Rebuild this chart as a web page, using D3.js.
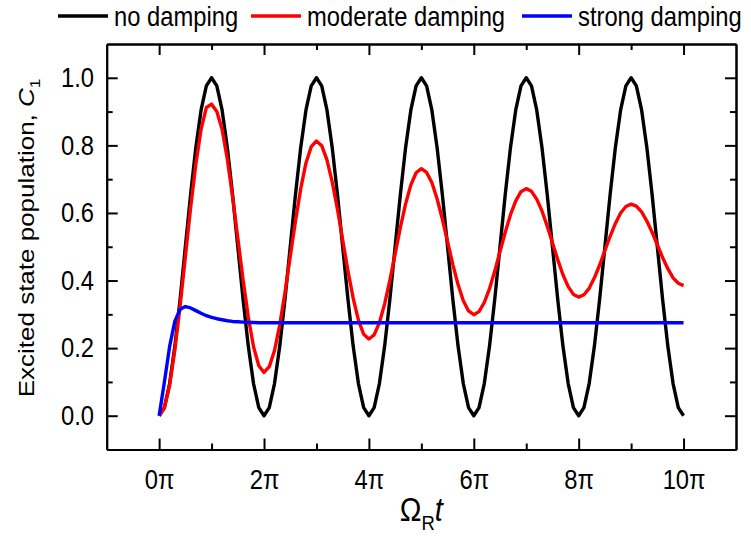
<!DOCTYPE html>
<html>
<head>
<meta charset="utf-8">
<script src="https://cdn.jsdelivr.net/npm/d3@7"></script>
<style>
  body { margin: 0; background: #fff; }
  svg { display: block; }
  text { font-family: "Liberation Sans", Arial, sans-serif; fill: #000; }
</style>
</head>
<body>
<svg id="chart" width="751" height="536"></svg>
<script>
// Sample spacing of the time axis, in units of π
const tStep = 0.1;

// Excited state population C1, no damping (t = 0 … 10π)
const noDamping = [
  0, 0.024, 0.095, 0.206, 0.345, 0.5, 0.655, 0.794, 0.905, 0.976,
  1, 0.976, 0.905, 0.794, 0.655, 0.5, 0.345, 0.206, 0.095, 0.024,
  0, 0.024, 0.095, 0.206, 0.345, 0.5, 0.655, 0.794, 0.905, 0.976,
  1, 0.976, 0.905, 0.794, 0.655, 0.5, 0.345, 0.206, 0.095, 0.024,
  0, 0.024, 0.095, 0.206, 0.345, 0.5, 0.655, 0.794, 0.905, 0.976,
  1, 0.976, 0.905, 0.794, 0.655, 0.5, 0.345, 0.206, 0.095, 0.024,
  0, 0.024, 0.095, 0.206, 0.345, 0.5, 0.655, 0.794, 0.905, 0.976,
  1, 0.976, 0.905, 0.794, 0.655, 0.5, 0.345, 0.206, 0.095, 0.024,
  0, 0.024, 0.095, 0.206, 0.345, 0.5, 0.655, 0.794, 0.905, 0.976,
  1, 0.976, 0.905, 0.794, 0.655, 0.5, 0.345, 0.206, 0.095, 0.024,
  0
];

// Moderate damping (t = 0 … 10π)
const moderateDamping = [
  0, 0.023, 0.090, 0.195, 0.325, 0.470, 0.615, 0.745, 0.848, 0.912,
  0.922, 0.900, 0.848, 0.760, 0.649, 0.526, 0.403, 0.292, 0.204, 0.148,
  0.128, 0.145, 0.193, 0.269, 0.365, 0.471, 0.576, 0.672, 0.748, 0.796,
  0.813, 0.799, 0.757, 0.692, 0.611, 0.520, 0.429, 0.348, 0.283, 0.241,
  0.227, 0.239, 0.275, 0.331, 0.401, 0.479, 0.557, 0.627, 0.683, 0.719,
  0.731, 0.720, 0.690, 0.642, 0.582, 0.515, 0.448, 0.388, 0.340, 0.310,
  0.299, 0.308, 0.335, 0.376, 0.428, 0.486, 0.543, 0.595, 0.636, 0.663,
  0.672, 0.664, 0.641, 0.606, 0.561, 0.512, 0.462, 0.417, 0.382, 0.359,
  0.351, 0.358, 0.377, 0.408, 0.446, 0.489, 0.531, 0.569, 0.600, 0.619,
  0.626, 0.620, 0.603, 0.576, 0.543, 0.506, 0.468, 0.435, 0.408, 0.392,
  0.385
];

// Strong damping: quick overshoot, then flat steady state
const strongT = [
  0, 0.1, 0.2, 0.3, 0.4, 0.5, 0.6, 0.7, 0.8, 0.9, 1.0,
  1.1, 1.2, 1.3, 1.4, 1.5, 1.6, 1.7, 1.8, 1.9, 2.0, 10
];
const strongDamping = [
  0, 0.100, 0.205, 0.280, 0.315, 0.323, 0.319, 0.311, 0.303, 0.296, 0.291,
  0.287, 0.284, 0.281, 0.279, 0.278, 0.277, 0.276, 0.276, 0.275, 0.275, 0.275
];

const seriesNames = ["no damping", "moderate damping", "strong damping"];
const seriesColors = ["#000000", "#ff0000", "#0000ff"];

const xMajorTicks = [0, 2, 4, 6, 8, 10];
const xMinorTicks = [1, 3, 5, 7, 9];
const yMajorTicks = [0, 0.2, 0.4, 0.6, 0.8, 1.0];
const yMinorTicks = [0.1, 0.3, 0.5, 0.7, 0.9];

// text in this figure is slightly condensed horizontally
const squeeze = 0.88;

const svg = d3.select("#chart");
const W = 751, H = 536;
const margin = { left: 106.7, right: W - 736, top: 44, bottom: H - 449.5 };

const x = d3.scaleLinear().domain([-1, 11]).range([margin.left, W - margin.right]);
const y = d3.scaleLinear().domain([-0.1, 1.1]).range([H - margin.bottom, margin.top]);

const series = [
  noDamping.map((v, i) => [i * tStep, v]),
  moderateDamping.map((v, i) => [i * tStep, v]),
  strongT.map((t, i) => [t, strongDamping[i]])
];

const axisStyle = g => {
  g.selectAll("path.domain").attr("stroke", "#000").attr("stroke-width", 2);
  g.selectAll(".tick line").attr("stroke", "#000").attr("stroke-width", 2);
  g.selectAll(".tick text")
    .style("font-family", '"Liberation Sans", Arial, sans-serif')
    .style("font-size", "27px")
    .attr("fill", "#000")
    .attr("transform", `scale(${squeeze},1)`);
};

const piFmt = d => d + "π";

// bottom axis: labelled major ticks and minor ticks, pointing inward
svg.append("g")
  .attr("transform", `translate(0,${y(-0.1)})`)
  .call(d3.axisBottom(x).tickValues(xMajorTicks).tickFormat(piFmt)
    .tickSizeInner(-11).tickSizeOuter(0).tickPadding(20))
  .call(axisStyle);
svg.append("g")
  .attr("transform", `translate(0,${y(-0.1)})`)
  .call(d3.axisBottom(x).tickValues(xMinorTicks).tickFormat("")
    .tickSizeInner(-6).tickSizeOuter(0))
  .call(axisStyle);

// top axis
svg.append("g")
  .attr("transform", `translate(0,${y(1.1)})`)
  .call(d3.axisTop(x).tickValues(xMajorTicks).tickFormat("")
    .tickSizeInner(-11).tickSizeOuter(0))
  .call(axisStyle);
svg.append("g")
  .attr("transform", `translate(0,${y(1.1)})`)
  .call(d3.axisTop(x).tickValues(xMinorTicks).tickFormat("")
    .tickSizeInner(-6).tickSizeOuter(0))
  .call(axisStyle);

// left axis
svg.append("g")
  .attr("transform", `translate(${x(-1)},0)`)
  .call(d3.axisLeft(y).tickValues(yMajorTicks).tickFormat(d3.format(".1f"))
    .tickSizeInner(-11).tickSizeOuter(0).tickPadding(14.5))
  .call(axisStyle);
svg.append("g")
  .attr("transform", `translate(${x(-1)},0)`)
  .call(d3.axisLeft(y).tickValues(yMinorTicks).tickFormat("")
    .tickSizeInner(-6).tickSizeOuter(0))
  .call(axisStyle);

// right axis
svg.append("g")
  .attr("transform", `translate(${x(11)},0)`)
  .call(d3.axisRight(y).tickValues(yMajorTicks).tickFormat("")
    .tickSizeInner(-11).tickSizeOuter(0))
  .call(axisStyle);
svg.append("g")
  .attr("transform", `translate(${x(11)},0)`)
  .call(d3.axisRight(y).tickValues(yMinorTicks).tickFormat("")
    .tickSizeInner(-6).tickSizeOuter(0))
  .call(axisStyle);

// curves
const line = d3.line().x(d => x(d[0])).y(d => y(d[1]));
svg.append("g").selectAll("path.curve")
  .data(series)
  .join("path")
  .attr("class", "curve")
  .attr("d", line)
  .attr("fill", "none")
  .attr("stroke", (d, i) => seriesColors[i])
  .attr("stroke-width", 3.4)
  .attr("stroke-linejoin", "round");

// legend across the top
const legendX = [58, 251, 522];
const legend = svg.append("g").selectAll("g")
  .data(seriesNames)
  .join("g")
  .attr("transform", (d, i) => `translate(${legendX[i]},16)`);
legend.append("line")
  .attr("x1", 0).attr("x2", 50).attr("y1", 0).attr("y2", 0)
  .attr("stroke", (d, i) => seriesColors[i])
  .attr("stroke-width", 3.4);
legend.append("text")
  .attr("transform", `translate(56,10) scale(${squeeze},1)`)
  .style("font-size", "27px")
  .text(d => d);

// y-axis title
const yTitle = svg.append("text")
  .attr("transform", `translate(34,238) scale(${squeeze},1) rotate(-90)`)
  .attr("text-anchor", "middle")
  .style("font-size", "26px");
yTitle.append("tspan").text("Excited state population, ");
yTitle.append("tspan").style("font-style", "italic").text("C");
yTitle.append("tspan").attr("dy", 7).style("font-size", "17px").text("1");

// x-axis title
const xTitle = svg.append("text")
  .attr("transform", `translate(${(x(-1) + x(11)) / 2},521) scale(${squeeze},1)`)
  .attr("text-anchor", "middle")
  .style("font-size", "33px");
xTitle.append("tspan").text("Ω");
xTitle.append("tspan").attr("dy", 9).style("font-size", "21px").text("R");
xTitle.append("tspan").attr("dy", -9).style("font-style", "italic").text("t");
</script>
</body>
</html>
